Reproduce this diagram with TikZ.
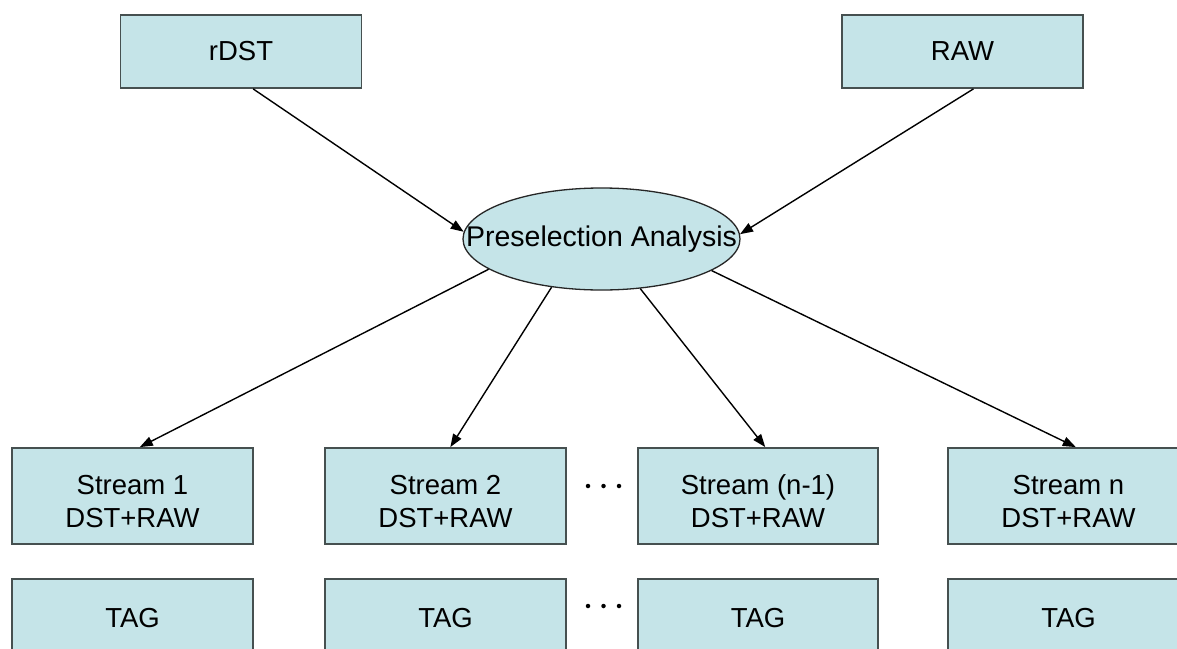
\documentclass[tikz,border=0pt]{standalone}
\usepackage{fontspec}
\setmainfont{Liberation Sans}
\usetikzlibrary{shapes.geometric,arrows.meta,calc}
\definecolor{boxfill}{RGB}{197,228,232}
\definecolor{boxline}{RGB}{70,80,80}
\tikzset{
  box/.style={rectangle, draw=boxline, line width=1.8pt, fill=boxfill,
    inner sep=0pt, minimum width=241pt, align=center,
    font=\fontsize{27.5}{33}\selectfont},
  topbox/.style={box, minimum height=73pt},
  streambox/.style={box, minimum height=96pt},
  tagbox/.style={box, minimum height=78pt},
  boxtext/.style={align=center, inner sep=0pt, font=\fontsize{27.5}{33}\selectfont},
  oval/.style={ellipse, draw=black!85, line width=1.3pt, fill=boxfill,
    inner sep=0pt, minimum width=277pt, minimum height=102pt},
  arr/.style={line width=1.4pt, -{Triangle[length=13pt,width=9.5pt]}},
  dot/.style={circle, fill=black, inner sep=0pt, minimum size=4.5pt}
}
\begin{document}
\begin{tikzpicture}[x=1pt,y=-1pt]
  \useasboundingbox[fill=white] (0,0) rectangle (1177,648);

  % sources
  \node[topbox] (rdst) at (241,51.5) {rDST};
  \node[topbox] (raw)  at (962.5,51.5) {RAW};

  % preselection step
  \node[oval] (pre) at (601.5,239) {};
  \node[font=\fontsize{28.5}{33}\selectfont] (pretxt) at (pre.center) {Preselection Analysis};

  % output streams (text set slightly below the box centre)
  \node[streambox] (s1) at (132.5,496) {};
  \node[streambox] (s2) at (445.5,496) {};
  \node[streambox, minimum width=240pt] (s3) at (758,496) {};
  \node[streambox] (s4) at (1068.5,496) {};
  \node[boxtext] (s1t) at ($(s1.center)+(0,5.5)$) {Stream 1\\DST+RAW};
  \node[boxtext] (s2t) at ($(s2.center)+(0,5.5)$) {Stream 2\\DST+RAW};
  \node[boxtext] (s3t) at ($(s3.center)+(0,5.5)$) {Stream (n-1)\\DST+RAW};
  \node[boxtext] (s4t) at ($(s4.center)+(0,5.5)$) {Stream n\\DST+RAW};

  % tag files
  \node[tagbox] (t1) at (132.5,618) {TAG};
  \node[tagbox] (t2) at (445.5,618) {TAG};
  \node[tagbox, minimum width=240pt] (t3) at (758,618) {TAG};
  \node[tagbox] (t4) at (1068.5,618) {TAG};

  % ellipsis dots between stream 2 and stream n-1
  \foreach \px [count=\i] in {588,603.5,619} {
    \node[dot] (da\i) at (\px,486) {};
    \node[dot] (db\i) at (\px,606) {};
  }

  % inputs into the preselection
  \draw[arr] ($(rdst.south west)!0.55!(rdst.south east)$) -- (pre.177.5);
  \draw[arr] ($(raw.south west)!0.545!(raw.south east)$) -- (pre.2.5);

  % preselection into the streams
  \draw[arr] (pre.195.5) -- ($(s1.north west)!0.53!(s1.north east)$);
  \draw[arr] (pre.224.6) -- ($(s2.north west)!0.52!(s2.north east)$);
  \draw[arr] (pre.308.2) -- ($(s3.north west)!0.53!(s3.north east)$);
  \draw[arr] (pre.344.3) -- ($(s4.north west)!0.53!(s4.north east)$);
\end{tikzpicture}
\end{document}
